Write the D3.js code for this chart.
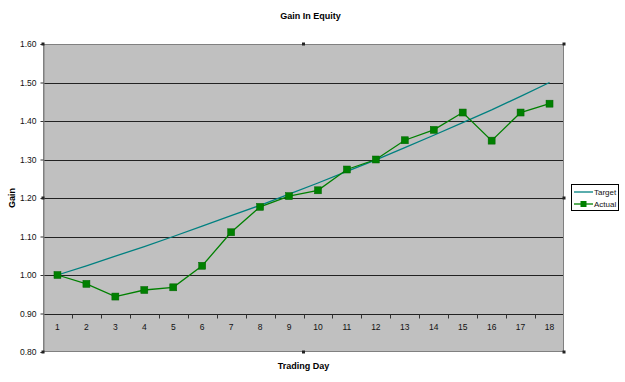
<!DOCTYPE html>
<html><head><meta charset="utf-8">
<script src="https://cdn.jsdelivr.net/npm/d3@7"></script>
<style>body{margin:0;background:#fff}svg{display:block;font-family:"Liberation Sans",Arial,sans-serif}</style>
</head><body>
<svg id="c" width="625" height="382"></svg>
<script>
const days = [1,2,3,4,5,6,7,8,9,10,11,12,13,14,15,16,17,18];
const target = [1.000,1.024,1.049,1.074,1.100,1.127,1.154,1.181,1.210,1.239,1.269,1.299,1.331,1.363,1.396,1.429,1.464,1.500];
const actual = [1.000,0.977,0.944,0.961,0.968,1.024,1.111,1.177,1.205,1.220,1.274,1.300,1.350,1.377,1.422,1.349,1.422,1.445];
const yTicks = [0.80,0.90,1.00,1.10,1.20,1.30,1.40,1.50,1.60];
const seriesNames = ["Target","Actual"];

const svg = d3.select("#c");
const L=43, R=564, T=44, B=352;
const x = d3.scaleBand().domain(days).range([L,R]);
const y = d3.scaleLinear().domain([0.8,1.6]).range([B,T]);
const cx = d => x(d)+x.bandwidth()/2;

svg.append("rect").attr("x",L).attr("y",T).attr("width",R-L).attr("height",B-T).attr("fill","#c0c0c0");

// gridlines
svg.append("g").selectAll("line").data(yTicks.filter(v=>v>0.8&&v<1.6)).join("line")
  .attr("x1",L).attr("x2",R).attr("y1",d=>Math.round(y(d))+0.5).attr("y2",d=>Math.round(y(d))+0.5)
  .attr("stroke","#222").attr("stroke-width",1);

// plot border
svg.append("rect").attr("x",L+0.5).attr("y",T+0.5).attr("width",R-L-1).attr("height",B-T-1)
  .attr("fill","none").attr("stroke","#808080").attr("stroke-width",1);

// y axis
const yAxis = d3.axisLeft(y).tickValues(yTicks).tickFormat(d3.format(".2f")).tickSize(3).tickPadding(4);
const gy = svg.append("g").attr("transform",`translate(${L+0.5},0)`).call(yAxis);
gy.select(".domain").attr("stroke","#808080");
gy.selectAll(".tick line").attr("stroke","#333");
gy.selectAll("text").attr("font-size",8.5).attr("fill","#111").attr("font-family","Liberation Sans, Arial, sans-serif");

// x axis at 0.90
const y09 = Math.round(y(0.9))+0.5;
const xAxis = d3.axisBottom(x).tickSize(0).tickPadding(9);
const gx = svg.append("g").attr("transform",`translate(0,${y09})`).call(xAxis);
gx.select(".domain").remove();
gx.selectAll("text").attr("font-size",8.5).attr("fill","#111").attr("font-family","Liberation Sans, Arial, sans-serif");
svg.append("g").selectAll("line").data(days.slice(1)).join("line")
  .attr("x1",d=>Math.round(x(d))+0.5).attr("x2",d=>Math.round(x(d))+0.5)
  .attr("y1",y09).attr("y2",y09+4).attr("stroke","#333");

// target line
const line = d3.line().x((d,i)=>cx(days[i])).y(d=>y(d));
svg.append("path").datum(target).attr("d",line).attr("fill","none").attr("stroke","#008080").attr("stroke-width",1.3);
// actual line
svg.append("path").datum(actual).attr("d",line).attr("fill","none").attr("stroke","#008000").attr("stroke-width",1.3);
svg.append("g").selectAll("rect").data(actual).join("rect")
  .attr("x",(d,i)=>cx(days[i])-3.5).attr("y",d=>y(d)-3.5).attr("width",7).attr("height",7)
  .attr("fill","#008000").attr("stroke","#006400").attr("stroke-width",0.5);

// handles
const hs = [[L,T],[(L+R)/2,T],[R,T],[R,(T+B)/2],[R,B],[(L+R)/2,B],[L,B],[L,(T+B)/2]];
svg.append("g").selectAll("rect").data(hs).join("rect")
  .attr("x",d=>d[0]-1.5).attr("y",d=>d[1]-1.5).attr("width",3).attr("height",3).attr("fill","#222");

// titles
svg.append("text").attr("x",310.5).attr("y",19).attr("text-anchor","middle").attr("font-size",9).attr("font-weight","bold").text("Gain In Equity");
svg.append("text").attr("x",303.5).attr("y",369).attr("text-anchor","middle").attr("font-size",9).attr("font-weight","bold").text("Trading Day");
svg.append("text").attr("transform","translate(15,198) rotate(-90)").attr("text-anchor","middle").attr("font-size",9).attr("font-weight","bold").text("Gain");

// legend
const lg = svg.append("g");
lg.append("rect").attr("x",571.5).attr("y",184.5).attr("width",47).attr("height",26).attr("fill","#fff").attr("stroke","#000").attr("stroke-width",1);
const rows = [{n:seriesNames[0],c:"#008080",m:false,yy:192},{n:seriesNames[1],c:"#008000",m:true,yy:204}];
rows.forEach(r=>{
  lg.append("line").attr("x1",574).attr("x2",593).attr("y1",r.yy).attr("y2",r.yy).attr("stroke",r.c).attr("stroke-width",1.3);
  if(r.m) lg.append("rect").attr("x",580.5).attr("y",r.yy-3).attr("width",6).attr("height",6).attr("fill","#008000");
  lg.append("text").attr("x",594).attr("y",r.yy+3).attr("font-size",8).attr("fill","#111").text(r.n);
});
</script>
</body></html>
